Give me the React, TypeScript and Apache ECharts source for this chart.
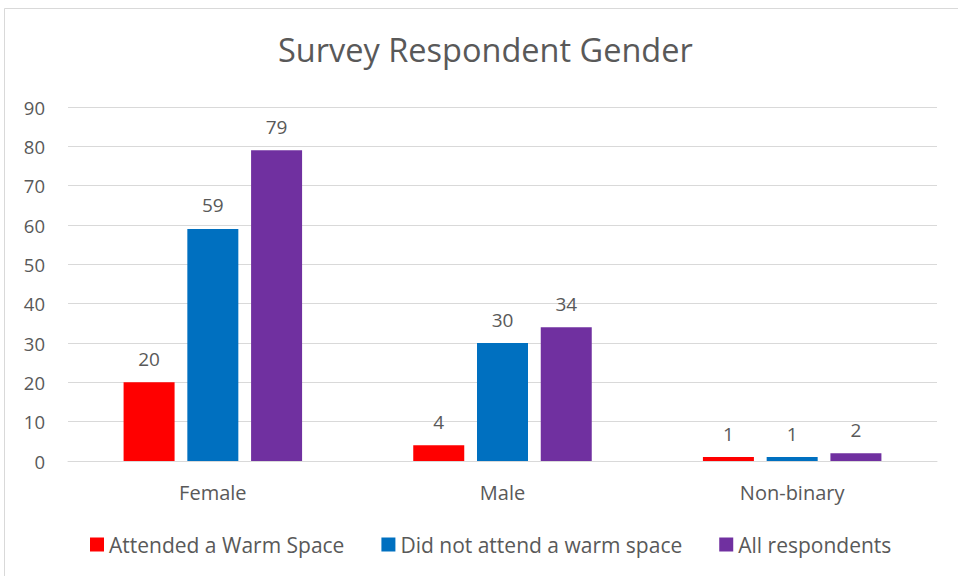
import React, { useEffect, useRef } from "react";
import * as echarts from "echarts";

const categories = ["Female", "Male", "Non-binary"];
const seriesNames = ["Attended a Warm Space", "Did not attend a warm space", "All respondents"];
const attended = [20, 4, 1];
const notAttended = [59, 30, 1];
const allRespondents = [79, 34, 2];
const colors = ["#FF0000", "#0070C0", "#7030A0"];
const FONT = "Open Sans";
const TXT = "#595959";

export default function App() {
  const ref = useRef<HTMLDivElement>(null);
  useEffect(() => {
    document.body.style.margin = "0";
    const chart = echarts.init(ref.current!, null, { renderer: "svg" });
    const values = [attended, notAttended, allRespondents];
    chart.setOption({
      animation: false,
      backgroundColor: "#ffffff",
      textStyle: { fontFamily: FONT },
      title: {
        text: "Survey Respondent Gender",
        left: 278,
        top: 33,
        padding: 0,
        textStyle: { fontFamily: FONT, fontSize: 32.5, fontWeight: "normal", color: TXT },
      },
      graphic: [
        {
          type: "rect",
          shape: { x: 4.5, y: 8.5, width: 1000, height: 600 },
          style: { fill: "none", stroke: "#d9d9d9", lineWidth: 1 },
          silent: true,
        },
      ],
      legend: {
        bottom: 21,
        left: 90,
        padding: 0,
        itemWidth: 14,
        itemHeight: 14,
        itemGap: 37,
        icon: "rect",
        textStyle: { fontFamily: FONT, fontSize: 21, color: TXT },
        data: seriesNames,
      },
      grid: { left: 68, right: 21, top: 107, bottom: 115 },
      xAxis: {
        type: "category",
        data: categories,
        axisLine: { lineStyle: { color: "#d9d9d9", width: 1 } },
        axisTick: { show: false },
        axisLabel: { color: TXT, fontSize: 20, fontFamily: FONT, margin: 21 },
      },
      yAxis: {
        type: "value",
        min: 0,
        max: 90,
        interval: 10,
        axisLine: { show: false },
        axisTick: { show: false },
        splitLine: { lineStyle: { color: "#d9d9d9", width: 1 } },
        axisLabel: { color: TXT, fontSize: 18.5, fontFamily: FONT, margin: 23 },
      },
      series: seriesNames.map((name, i) => ({
        name,
        type: "bar",
        data: values[i],
        barWidth: 51,
        barGap: "25%",
        itemStyle: { color: colors[i] },
        label: {
          show: true,
          position: "top",
          distance: 14,
          color: TXT,
          fontSize: 19,
          fontFamily: FONT,
        },
      })),
    });
    return () => chart.dispose();
  }, []);
  return <div ref={ref} style={{ width: 958, height: 576 }} />;
}
